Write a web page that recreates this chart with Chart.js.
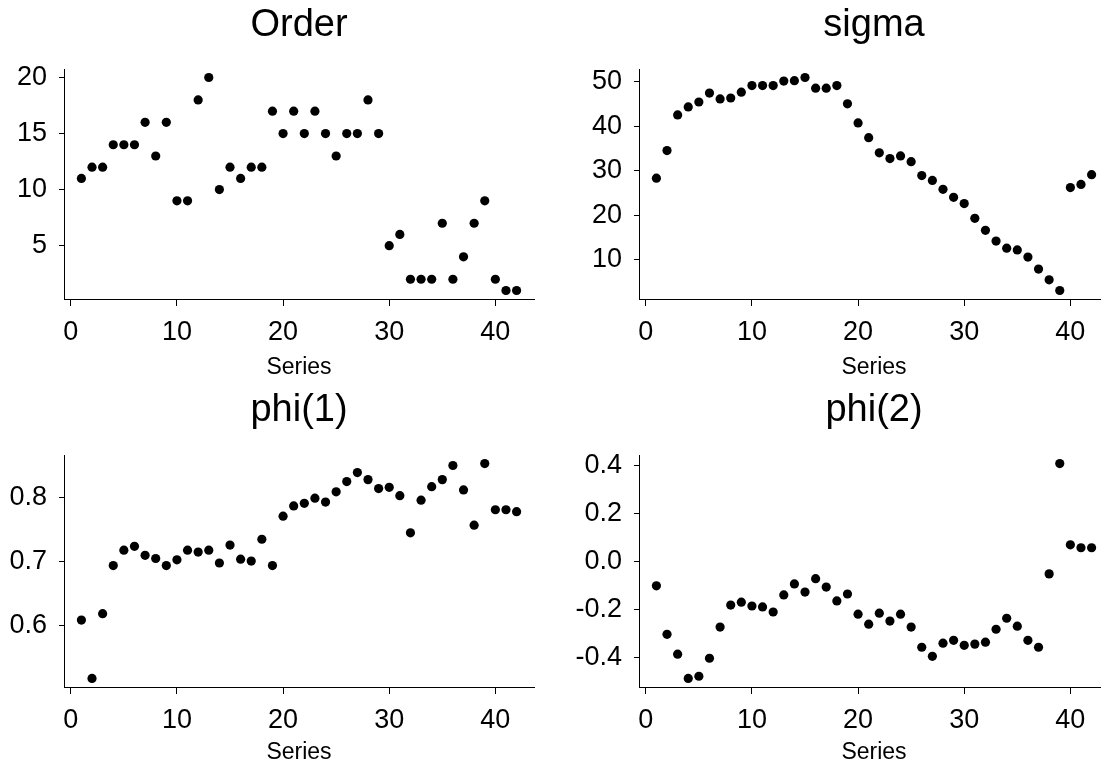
<!DOCTYPE html>
<html>
<head>
<meta charset="utf-8">
<title>Series panels</title>
<script src="https://cdn.jsdelivr.net/npm/chart.js@4.4.1/dist/chart.umd.min.js"></script>
<style>
  html, body { margin: 0; padding: 0; background: #fff; overflow: hidden; width: 1101px; height: 769px; }
  .panel { position: absolute; width: 550px; height: 385px; }
</style>
</head>
<body>
<div class="panel" style="left:0;top:0"><canvas id="c1" width="550" height="385"></canvas></div>
<div class="panel" style="left:575px;top:0"><canvas id="c2" width="550" height="385"></canvas></div>
<div class="panel" style="left:0;top:385px"><canvas id="c3" width="550" height="385"></canvas></div>
<div class="panel" style="left:575px;top:385px"><canvas id="c4" width="550" height="385"></canvas></div>
<script>
// x categories: series number
const seriesNo = [1, 2, 3, 4, 5, 6, 7, 8, 9, 10, 11, 12, 13, 14, 15, 16, 17, 18, 19, 20, 21,
                  22, 23, 24, 25, 26, 27, 28, 29, 30, 31, 32, 33, 34, 35, 36, 37, 38, 39, 40, 41, 42];

// values
const order = [11, 12, 12, 14, 14, 14, 16, 13, 16, 9, 9, 18, 20, 10, 12, 11, 12, 12, 17, 15, 17,
               15, 17, 15, 13, 15, 15, 18, 15, 5, 6, 2, 2, 2, 7, 2, 4, 7, 9, 2, 1, 1];
const sigma = [28.3, 34.5, 42.5, 44.3, 45.4, 47.4, 46.1, 46.3, 47.6, 49.1, 49.1, 49.1, 50.1, 50.2,
               50.9, 48.5, 48.5, 49.1, 45.0, 40.7, 37.4, 34.0, 32.7, 33.3, 32.0, 28.9, 27.8, 25.8,
               24.0, 22.6, 19.3, 16.6, 14.2, 12.6, 12.2, 10.6, 7.9, 5.5, 3.1, 26.2, 26.9, 29.1];
const phi1 = [0.609, 0.518, 0.619, 0.694, 0.718, 0.724, 0.710, 0.705, 0.694, 0.703, 0.718, 0.715,
              0.718, 0.698, 0.726, 0.704, 0.701, 0.735, 0.694, 0.771, 0.787, 0.791, 0.799, 0.793,
              0.809, 0.825, 0.839, 0.828, 0.814, 0.816, 0.803, 0.745, 0.796, 0.817, 0.828, 0.850,
              0.812, 0.757, 0.853, 0.781, 0.781, 0.778];
const phi2 = [-0.100, -0.302, -0.385, -0.486, -0.477, -0.402, -0.272, -0.180, -0.168, -0.184,
              -0.188, -0.209, -0.138, -0.092, -0.126, -0.070, -0.105, -0.163, -0.134, -0.218,
              -0.260, -0.214, -0.247, -0.218, -0.272, -0.356, -0.394, -0.339, -0.327, -0.348,
              -0.343, -0.335, -0.281, -0.235, -0.268, -0.327, -0.356, -0.050, 0.410, 0.071,
              0.059, 0.059];

// tick values
const xTicks = [0, 10, 20, 30, 40];
const orderTicks = [5, 10, 15, 20];
const sigmaTicks = [10, 20, 30, 40, 50];
const phi1Ticks = [0.6, 0.7, 0.8];
const phi2Ticks = [-0.4, -0.2, 0.0, 0.2, 0.4];

const FONT = "'Liberation Sans', Arial, sans-serif";
Chart.defaults.font.family = FONT;
Chart.defaults.color = '#000';

// panel title, centred over the plot region like base R
const panelTitle = {
    id: 'panelTitle',
    afterDraw(chart, args, opts) {
        const { ctx, chartArea } = chart;
        ctx.save();
        ctx.font = `${opts.size}px ${FONT}`;
        ctx.fillStyle = '#000';
        ctx.textAlign = 'center';
        ctx.textBaseline = 'middle';
        ctx.fillText(opts.text, (chartArea.left + chartArea.right) / 2, opts.y);
        ctx.restore();
    }
};

// R-style 4% range extension
function padRange(vals) {
    const lo = Math.min(...vals), hi = Math.max(...vals);
    const d = (hi - lo) * 0.04;
    return [lo - d, hi + d];
}

function makePanel(id, title, values, yTicks, decimals, plotTop, plotBottom) {
    const [xmin, xmax] = padRange(seriesNo);
    const [ymin, ymax] = padRange(values);
    const canvasH = 385;
    new Chart(document.getElementById(id), {
        type: 'scatter',
        data: {
            datasets: [{
                data: seriesNo.map((s, i) => ({ x: s, y: values[i] })),
                backgroundColor: '#000',
                borderWidth: 0,
                pointRadius: 4.6,
                pointHoverRadius: 4.6
            }]
        },
        plugins: [panelTitle],
        options: {
            responsive: false,
            animation: false,
            events: [],
            layout: { padding: { left: 0, right: 16, top: plotTop, bottom: 0 } },
            plugins: {
                legend: { display: false },
                tooltip: { enabled: false },
                title: { display: false },
                panelTitle: { text: title, size: 38, y: 26 }
            },
            scales: {
                x: {
                    type: 'linear',
                    min: xmin,
                    max: xmax,
                    afterBuildTicks: s => { s.ticks = xTicks.map(v => ({ value: v })); },
                    afterFit: s => { s.height = canvasH - plotBottom; },
                    grid: { drawOnChartArea: false, drawTicks: true, tickLength: 7, color: '#000' },
                    border: { display: true, color: '#000', width: 1 },
                    ticks: { font: { size: 27 }, padding: 10, maxRotation: 0, autoSkip: false,
                             callback: v => String(v) },
                    title: { display: true, text: 'Series', font: { size: 23 },
                             padding: { top: 0, bottom: 4 } }
                },
                y: {
                    type: 'linear',
                    min: ymin,
                    max: ymax,
                    afterBuildTicks: s => { s.ticks = yTicks.map(v => ({ value: v })); },
                    afterFit: s => { s.width = 64; },
                    grid: { drawOnChartArea: false, drawTicks: true, tickLength: 5, color: '#000' },
                    border: { display: true, color: '#000', width: 1 },
                    ticks: { font: { size: 27 }, padding: 12, autoSkip: false,
                             callback: v => v.toFixed(decimals) }
                }
            }
        }
    });
}

makePanel('c1', 'Order', order, orderTicks, 0, 69, 299);
makePanel('c2', 'sigma', sigma, sigmaTicks, 0, 69, 299);
makePanel('c3', 'phi(1)', phi1, phi1Ticks, 1, 70, 302);
makePanel('c4', 'phi(2)', phi2, phi2Ticks, 1, 70, 302);
</script>
</body>
</html>
